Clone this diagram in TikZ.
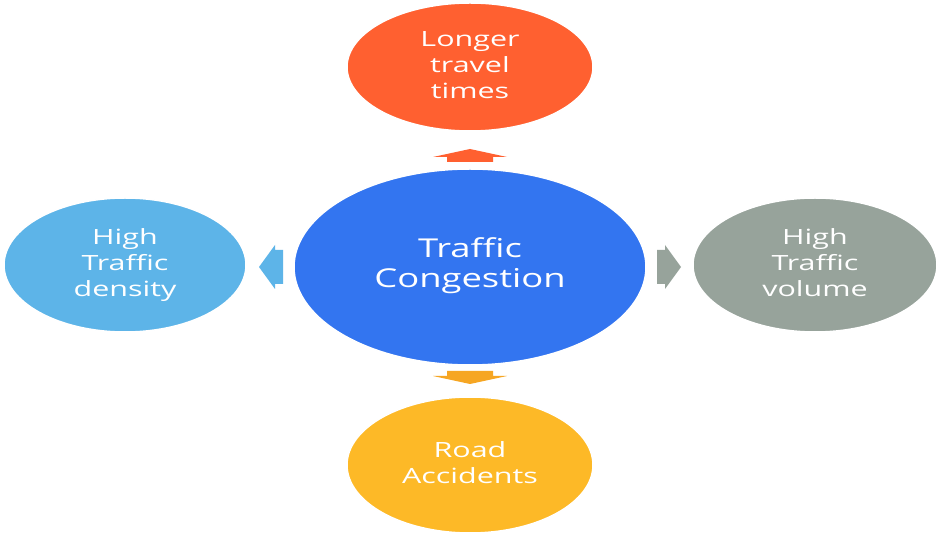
\documentclass[tikz,border=0pt]{standalone}
\usepackage{fontspec}
\setmainfont{Open Sans}
\usetikzlibrary{shapes.geometric}
\definecolor{cmain}{RGB}{51,117,240}
\definecolor{ctop}{RGB}{255,96,48}
\definecolor{cbot}{RGB}{253,185,39}
\definecolor{cleft}{RGB}{93,180,232}
\definecolor{cright}{RGB}{151,163,155}
\definecolor{abot}{RGB}{246,166,35}
\newcommand{\wtxt}[2]{\scalebox{#1}[1]{\begin{tabular}{@{}c@{}}#2\end{tabular}}}
\begin{document}
\begin{tikzpicture}[x=1pt,y=1pt,
  blob/.style={ellipse,draw=white,line width=1.5pt,text=white,align=center,inner sep=0pt,font=\fontsize{21}{26}\selectfont}]
\useasboundingbox (0,0) rectangle (940,533);
\fill[white] (0,0) rectangle (940,533);
\node[blob,fill=cmain,minimum width=352pt,minimum height=196pt,font=\fontsize{26}{30}\selectfont] (c) at (470,266) {\wtxt{1.4}{Traffic\\Congestion}};
\node[blob,fill=ctop,minimum width=246pt,minimum height=128pt] (t) at (470,466) {\wtxt{1.45}{Longer\\travel\\times}};
\node[blob,fill=cbot,minimum width=246pt,minimum height=136pt] (b) at (470,68) {\wtxt{1.45}{Road\\Accidents}};
\node[blob,fill=cleft,minimum width=242pt,minimum height=134pt] (l) at (125,268) {\wtxt{1.45}{High\\Traffic\\density}};
\node[blob,fill=cright,minimum width=244pt,minimum height=134pt] (r) at (815,268) {\wtxt{1.45}{High\\Traffic\\volume}};
% block arrows
\fill[ctop] (447,371) -- (447,376) -- (433,376) -- (470,384) -- (507,376) -- (493,376) -- (493,371) -- cycle;
\fill[abot] (447,162) -- (447,157) -- (433,157) -- (470,149) -- (507,157) -- (493,157) -- (493,162) -- cycle;
\fill[cleft] (283,283) -- (275,283) -- (275,288) -- (259,266) -- (275,244) -- (275,249) -- (283,249) -- cycle;
\fill[cright] (657,283) -- (665,283) -- (665,288) -- (681,266) -- (665,244) -- (665,249) -- (657,249) -- cycle;
\end{tikzpicture}
\end{document}
